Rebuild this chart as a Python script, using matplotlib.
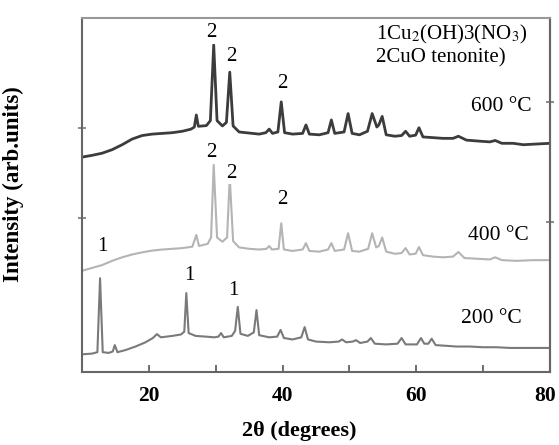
import numpy as np
import matplotlib
matplotlib.use("Agg")
import matplotlib.pyplot as plt
import matplotlib.transforms as mtransforms

plt.rcParams['font.family'] = ['Liberation Serif', 'DejaVu Serif']
plt.rcParams['mathtext.fontset'] = 'stix'

# XRD patterns (2theta, arbitrary intensity)
x600 = [10.0, 11.5, 13, 14.5, 16, 17.5, 19, 20.5, 22, 23.5, 25, 26.3, 26.8, 27.1, 27.4, 28.6,
        29.2, 29.7, 30.2, 31.0, 31.6, 32.1, 32.6, 33.5, 35.0, 36.5, 37.5, 38.0, 38.5, 39.3,
        39.8, 40.3, 41.5, 43.0, 43.5, 44.0, 45.5, 46.8, 47.3, 47.8, 49.2, 49.8, 50.4, 51.5,
        52.7, 53.4, 54.1, 54.4, 54.9, 55.5, 56.8, 57.8, 58.4, 59.0, 59.9, 60.4, 61.0, 62.5,
        64.0, 65.5, 66.3, 67.5, 69.5, 71.0, 71.8, 72.8, 74.5, 76, 78, 80]
y600 = [60.7, 61.2, 61.8, 62.8, 64.2, 65.8, 66.8, 67.2, 67.4, 67.6, 68.0, 68.6, 69.2, 72.6, 69.4, 69.6,
        71.0, 92.4, 71.0, 69.5, 70.5, 84.7, 69.5, 67.8, 67.5, 67.2, 67.6, 68.6, 67.4, 67.8,
        76.3, 67.6, 67.2, 67.4, 69.8, 67.2, 67.0, 67.6, 71.2, 67.4, 67.8, 73.0, 67.4, 67.0,
        68.0, 73.0, 69.2, 69.8, 72.2, 67.0, 66.6, 66.8, 68.0, 66.6, 66.9, 69.0, 66.4, 66.2,
        66.0, 66.0, 66.6, 65.5, 65.2, 65.0, 65.4, 64.6, 64.6, 64.2, 64.4, 64.6]

x400 = [10.0, 11.5, 13, 14.5, 16, 17.5, 19, 20.5, 22, 23.5, 25, 26.5, 27.1, 27.5, 28.8, 29.3,
        29.7, 30.2, 31.0, 31.7, 32.1, 32.6, 33.5, 35.0, 36.5, 37.6, 38.0, 38.4, 39.4, 39.8,
        40.2, 41.5, 43.0, 43.5, 44.0, 45.5, 46.8, 47.3, 47.8, 49.2, 49.8, 50.4, 51.5, 52.8,
        53.4, 54.0, 54.4, 54.9, 55.5, 56.8, 57.8, 58.4, 59.0, 59.9, 60.4, 61.0, 62.5, 64.0,
        65.5, 66.3, 67.2, 69, 71, 71.8, 72.8, 75, 77.5, 80]
y400 = [28.6, 29.4, 30.2, 31.4, 32.4, 33.2, 33.8, 34.3, 34.6, 34.8, 35.0, 35.4, 38.7, 35.6, 36.2, 38.0,
        58.5, 38.0, 36.8, 38.0, 55.0, 37.0, 35.2, 34.8, 34.6, 34.8, 35.6, 34.6, 34.8, 42.0,
        34.6, 34.2, 34.6, 36.4, 34.2, 34.0, 34.6, 36.4, 34.2, 34.6, 39.2, 34.2, 34.0, 34.8,
        39.2, 35.2, 35.6, 38.0, 34.0, 33.4, 33.6, 35.0, 33.2, 33.4, 35.3, 33.0, 32.6, 32.4,
        32.6, 33.9, 32.2, 32.0, 31.8, 32.4, 31.6, 31.4, 31.6, 31.6]

x200 = [10.0, 11.5, 12.3, 12.7, 13.1, 14.0, 14.6, 14.9, 15.3, 16.5, 18, 19.5, 20.6, 21.2, 21.8,
        23.5, 24.8, 25.3, 25.6, 25.95, 27, 28.5, 29.8, 30.4, 30.8, 31.2, 32.4, 32.9, 33.3,
        33.7, 34.8, 35.7, 36.1, 36.5, 38.0, 39.2, 39.7, 40.2, 41.5, 42.8, 43.3, 43.8, 45, 47,
        48.4, 48.9, 49.5, 50.5, 51.0, 51.6, 52.7, 53.2, 53.8, 55.5, 57.2, 57.8, 58.4, 60.1,
        60.7, 61.2, 61.8, 62.3, 62.9, 64.5, 66, 68, 70, 72, 74, 77, 80]
y200 = [5.0, 5.2, 5.6, 26.5, 5.6, 5.4, 5.8, 7.6, 5.6, 6.2, 7.2, 8.4, 9.6, 10.7, 9.8,
        10.2, 10.6, 11.4, 22.3, 11.0, 10.2, 10.0, 9.8, 10.0, 11.0, 9.8, 10.2, 11.6, 18.4,
        10.8, 10.2, 11.2, 17.5, 10.4, 9.8, 10.0, 11.9, 9.6, 9.2, 9.8, 12.7, 9.2, 8.6, 8.4,
        8.6, 9.2, 8.4, 8.6, 9.0, 8.2, 8.6, 9.6, 8.0, 7.8, 8.0, 9.6, 7.8, 7.8,
        9.6, 8.0, 8.0, 9.4, 7.6, 7.4, 7.2, 7.2, 7.0, 7.0, 6.8, 6.8, 6.8]

# phase labels on peaks
peak_lbl = ["2", "2", "2", "2", "2", "2", "1", "1", "1"]
peak_x = [29.4, 32.4, 40.0, 29.4, 32.4, 40.0, 13.1, 26.1, 32.7]
peak_y = [95.8, 89.0, 81.6, 61.9, 56.2, 48.6, 35.5, 27.4, 22.9]

temps = ["600 °C", "400 °C", "200 °C"]
temp_x = [72.7, 72.3, 71.3]
temp_y = [74.9, 38.5, 15.0]

fig = plt.figure(figsize=(5.59, 4.45), dpi=100)
ax = fig.add_axes([0.1467, 0.164, 0.8372, 0.7956])

ax.plot(x200, y200, color='#7a7a7a', lw=1.5, zorder=2)
ax.plot(x400, y400, color='#b4b4b4', lw=1.5, zorder=2)
ax.plot(x600, y600, color='#3c3c3c', lw=2.0, zorder=2)

box = dict(facecolor='white', edgecolor='none', pad=1.0)
for t, px, py in zip(peak_lbl, peak_x, peak_y):
    ax.text(px, py, t, fontsize=15, ha='center', va='center', bbox=box, zorder=3)
for t, px, py in zip(temps, temp_x, temp_y):
    ax.text(px, py, t, fontsize=15.5, ha='center', va='center', bbox=box, zorder=3)

ax.text(54.0, 95.2, r"1Cu$_\mathrm{2}$(OH)3(NO$_\mathrm{3}$)", fontsize=15,
        ha='left', va='center', bbox=box, zorder=3)
ax.text(54.0, 88.7, "2CuO tenonite)", fontsize=15, ha='left', va='center',
        bbox=box, zorder=3)

ax.set_xlim(10, 80)
ax.set_ylim(0, 100)
ax.set_xticks([20, 40, 60, 80])
ax.set_xticks([30, 50, 70], minor=True)
ax.tick_params(axis='x', which='both', direction='in', length=5, width=1.2,
               colors='#555555', labelcolor='black', labelsize=15.5, pad=10)
for lb in ax.get_xticklabels():
    lb.set_fontweight('bold')
# last label sits a little left of its tick in the original
lab80 = ax.get_xticklabels()[-1]
lab80.set_transform(lab80.get_transform() +
                    mtransforms.ScaledTranslation(-5 / 100, 0, fig.dpi_scale_trans))

ax.set_yticks([43.5, 69])
ax.set_yticklabels([])
ax.tick_params(axis='y', direction='inout', length=6, width=1.2, colors='#777777')
sec = ax.secondary_yaxis('right')
sec.set_yticks([42.4, 76.3])
sec.set_yticklabels([])
sec.tick_params(direction='inout', length=6, width=1.2, colors='#777777')
sec.spines['right'].set_color('#666666')
sec.spines['right'].set_linewidth(1.5)

for s in ax.spines.values():
    s.set_color('#666666')
    s.set_linewidth(1.5)
ax.spines['top'].set_color('#999999')

ax.set_xlabel("2θ (degrees)", fontsize=16, fontweight='bold')
ax.xaxis.set_label_coords(0.465, -0.137)
ax.set_ylabel("Intensity (arb.units)", fontsize=16.5, fontweight='bold')
ax.yaxis.set_label_coords(-0.125, 0.53)

fig.savefig("out.png", dpi=100)
